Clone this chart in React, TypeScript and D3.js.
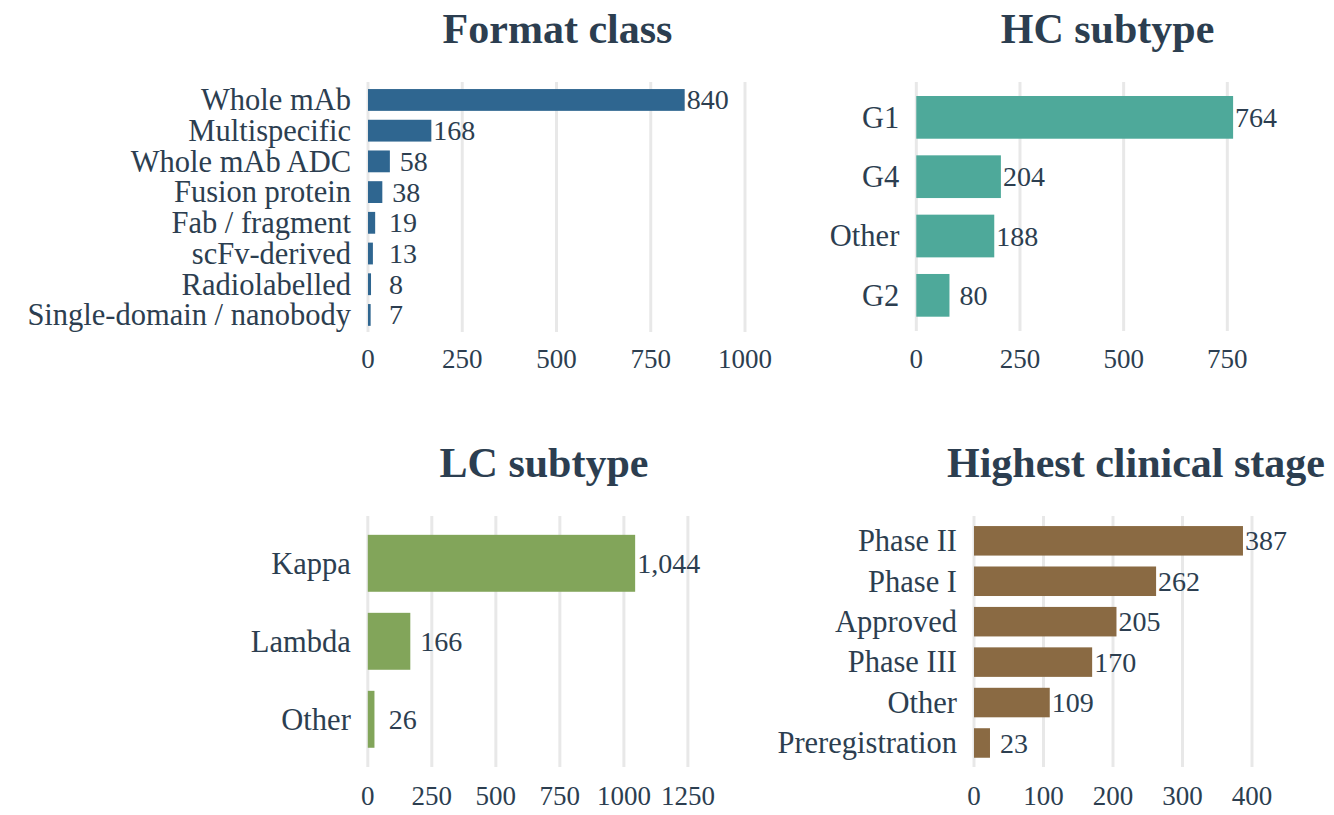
import React from 'react';
import * as d3 from 'd3';

const formatCats = [
  'Whole mAb',
  'Multispecific',
  'Whole mAb ADC',
  'Fusion protein',
  'Fab / fragment',
  'scFv-derived',
  'Radiolabelled',
  'Single-domain / nanobody',
];
const formatVals = [840, 168, 58, 38, 19, 13, 8, 7];
const formatTicks = [0, 250, 500, 750, 1000];

const hcCats = ['G1', 'G4', 'Other', 'G2'];
const hcVals = [764, 204, 188, 80];
const hcTicks = [0, 250, 500, 750];

const lcCats = ['Kappa', 'Lambda', 'Other'];
const lcVals = [1044, 166, 26];
const lcTicks = [0, 250, 500, 750, 1000, 1250];

const stageCats = ['Phase II', 'Phase I', 'Approved', 'Phase III', 'Other', 'Preregistration'];
const stageVals = [387, 262, 205, 170, 109, 23];
const stageTicks = [0, 100, 200, 300, 400];

const TEXT = '#2c3e50';
const FONT = '"Liberation Serif", "Times New Roman", serif';

type PanelProps = {
  title: string;
  cats: string[];
  vals: number[];
  ticks: number[];
  color: string;
  // layout
  x0: number;
  x1: number;
  xMax: number;
  bandTop: number;
  bandBottom: number;
  gridTop: number;
  gridBottom: number;
  tickY: number;
  titleX: number;
  titleY: number;
  pad: number;
};

const Panel: React.FC<PanelProps> = (p) => {
  const x = d3.scaleLinear().domain([0, p.xMax]).range([p.x0, p.x1]);
  const y = d3
    .scaleBand<string>()
    .domain(p.cats)
    .range([p.bandTop, p.bandBottom])
    .paddingInner(p.pad)
    .paddingOuter(p.pad / 2);
  const fmt = d3.format(',');

  return (
    <g>
      <text
        x={p.titleX}
        y={p.titleY}
        textAnchor="middle"
        fontSize={42}
        fontWeight="bold"
        fill={TEXT}
      >
        {p.title}
      </text>
      {p.ticks.map((t) => (
        <line
          key={'g' + t}
          x1={x(t)}
          x2={x(t)}
          y1={p.gridTop}
          y2={p.gridBottom}
          stroke="#e8e8e8"
          strokeWidth={3}
        />
      ))}
      {p.ticks.map((t) => (
        <text key={'t' + t} x={x(t)} y={p.tickY} textAnchor="middle" fontSize={27} fill={TEXT}>
          {String(t)}
        </text>
      ))}
      {p.cats.map((c, i) => {
        const cy = (y(c) || 0) + y.bandwidth() / 2;
        const end = x(p.vals[i]);
        const w = end - x(0);
        // small bars push their label a bit further out, like the original
        const lx = w < 50 ? Math.max(end + 10, x(0) + 21) : end + 2;
        return (
          <g key={c}>
            <rect x={x(0)} y={y(c)} width={w} height={y.bandwidth()} fill={p.color} />
            <text
              x={x(0) - 17}
              y={cy}
              dy="0.34em"
              textAnchor="end"
              fontSize={30.5}
              fill={TEXT}
            >
              {c}
            </text>
            <text x={lx} y={cy} dy="0.34em" fontSize={28} fill={TEXT}>
              {fmt(p.vals[i])}
            </text>
          </g>
        );
      })}
    </g>
  );
};

export default function App() {
  return (
    <svg
      width={1334}
      height={815}
      style={{ position: 'absolute', left: 0, top: 0, background: '#fff' }}
      fontFamily={FONT}
    >
      <rect width={1334} height={815} fill="#fff" />
      <Panel
        title="Format class"
        cats={formatCats}
        vals={formatVals}
        ticks={formatTicks}
        color="#2f6690"
        x0={368}
        x1={745}
        xMax={1000}
        bandTop={84.6}
        bandBottom={330.3}
        gridTop={82}
        gridBottom={332}
        tickY={368}
        titleX={557.5}
        titleY={43}
        pad={0.29}
      />
      <Panel
        title="HC subtype"
        cats={hcCats}
        vals={hcVals}
        ticks={hcTicks}
        color="#4ea99a"
        x0={916.3}
        x1={1227.3}
        xMax={750}
        bandTop={87.7}
        bandBottom={325}
        gridTop={82}
        gridBottom={331}
        tickY={368}
        titleX={1107.5}
        titleY={43}
        pad={0.28}
      />
      <Panel
        title="LC subtype"
        cats={lcCats}
        vals={lcVals}
        ticks={lcTicks}
        color="#82a55a"
        x0={367.8}
        x1={687.9}
        xMax={1250}
        bandTop={524.3}
        bandBottom={758.3}
        gridTop={516}
        gridBottom={767}
        tickY={805}
        titleX={544}
        titleY={477}
        pad={0.27}
      />
      <Panel
        title="Highest clinical stage"
        cats={stageCats}
        vals={stageVals}
        ticks={stageTicks}
        color="#8a6a43"
        x0={974}
        x1={1252}
        xMax={400}
        bandTop={520.6}
        bandBottom={763.2}
        gridTop={516}
        gridBottom={767}
        tickY={805}
        titleX={1136}
        titleY={477}
        pad={0.27}
      />
    </svg>
  );
}
